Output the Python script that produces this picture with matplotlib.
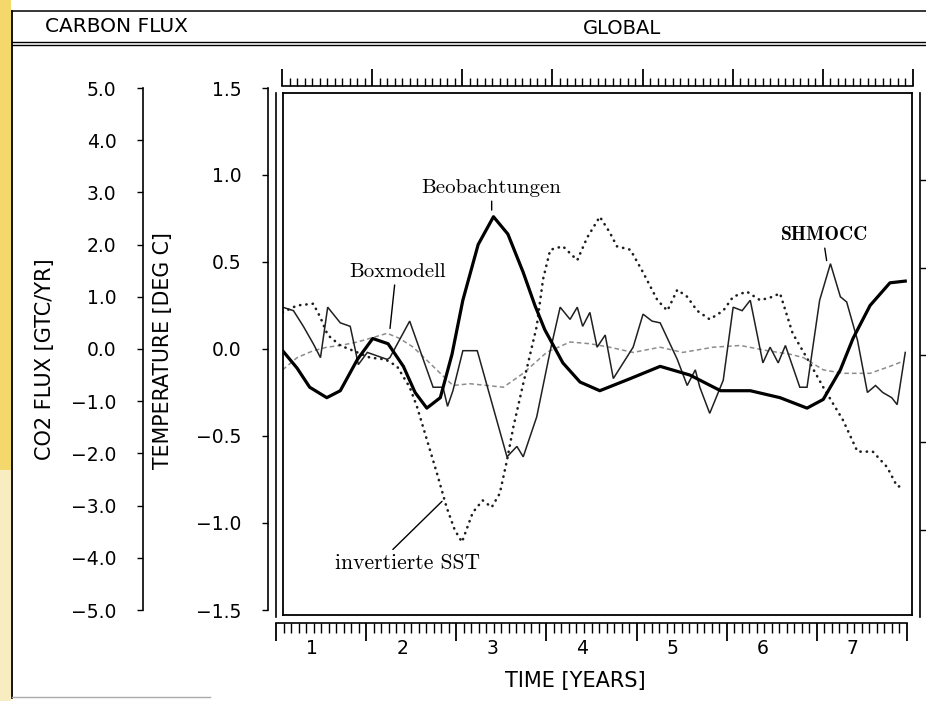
"""
Carbon flux / global temperature comparison, redrawn from a scanned figure.
"""

import numpy as np
import matplotlib.pyplot as plt
from matplotlib.lines import Line2D
from matplotlib.patches import Rectangle


# ---------------------------------------------------------------------------
# Data (time in years, temperature in deg C)
# ---------------------------------------------------------------------------

obs_years = [0.64, 0.80, 0.94, 1.13, 1.28, 1.47, 1.64, 1.81, 1.98, 2.11,
             2.24, 2.39, 2.52, 2.64, 2.81, 2.98, 3.14, 3.31, 3.44, 3.55,
             3.75, 3.94, 4.16, 4.50, 4.83, 5.16, 5.50, 5.83, 6.16, 6.46,
             6.64, 6.83, 6.97, 7.16, 7.38, 7.55]
obs_temp = [-0.01, -0.11, -0.22, -0.28, -0.24, -0.06, 0.06, 0.03, -0.10, -0.25,
            -0.34, -0.28, -0.03, 0.28, 0.60, 0.76, 0.66, 0.44, 0.25, 0.11,
            -0.08, -0.19, -0.24, -0.17, -0.10, -0.15, -0.24, -0.24, -0.28, -0.34,
            -0.29, -0.12, 0.06, 0.25, 0.38, 0.39]

box_years = [0.64, 0.80, 0.98, 1.13, 1.28, 1.47, 1.67, 1.80, 1.94, 2.09,
             2.31, 2.53, 2.72, 2.91, 3.09, 3.31, 3.57, 3.83, 4.05, 4.27,
             4.53, 4.83, 5.08, 5.42, 5.72, 6.02, 6.27, 6.42, 6.64, 6.86,
             7.16, 7.38, 7.53]
box_temp = [-0.12, -0.05, -0.01, 0.01, 0.02, 0.04, 0.07, 0.09, 0.06, 0.01,
            -0.10, -0.21, -0.20, -0.21, -0.22, -0.14, -0.02, 0.04, 0.03, 0.01,
            -0.02, 0.01, -0.02, 0.01, 0.02, -0.01, -0.03, -0.05, -0.12, -0.14,
            -0.14, -0.10, -0.07]

shm_years = [0.64, 0.76, 0.87, 0.98, 1.06, 1.14, 1.28, 1.39, 1.44, 1.48,
             1.58, 1.80, 1.83, 2.05, 2.31, 2.42, 2.47, 2.53, 2.64, 2.80,
             3.13, 3.24, 3.31, 3.46, 3.61, 3.72, 3.83, 3.91, 3.97, 4.05,
             4.13, 4.22, 4.31, 4.53, 4.64, 4.74, 4.83, 5.02, 5.13, 5.22,
             5.27, 5.38, 5.53, 5.64, 5.74, 5.83, 5.97, 6.05, 6.14, 6.22,
             6.38, 6.46, 6.60, 6.72, 6.83, 6.90, 7.02, 7.13, 7.22, 7.30,
             7.40, 7.46, 7.55]
shm_temp = [0.24, 0.22, 0.13, 0.03, -0.05, 0.24, 0.15, 0.13, 0.01, -0.09,
            -0.02, -0.06, -0.05, 0.16, -0.22, -0.22, -0.33, -0.24, -0.01, -0.01,
            -0.62, -0.56, -0.62, -0.39, -0.01, 0.24, 0.17, 0.24, 0.13, 0.21,
            0.01, 0.08, -0.17, 0.01, 0.20, 0.16, 0.15, -0.06, -0.21, -0.12,
            -0.22, -0.37, -0.18, 0.24, 0.22, 0.28, -0.08, 0.01, -0.08, 0.02,
            -0.22, -0.22, 0.28, 0.49, 0.30, 0.27, 0.05, -0.25, -0.21, -0.25,
            -0.28, -0.32, -0.02]

sst_years = [0.64, 0.80, 0.98, 1.06, 1.14, 1.28, 1.47, 1.61, 1.78, 1.91,
             2.05, 2.13, 2.24, 2.35, 2.46, 2.55, 2.63, 2.75, 2.86, 2.96,
             3.05, 3.13, 3.20, 3.31, 3.46, 3.53, 3.61, 3.75, 3.91, 4.02,
             4.16, 4.27, 4.35, 4.50, 4.64, 4.80, 4.91, 5.02, 5.13, 5.24,
             5.38, 5.53, 5.64, 5.79, 5.94, 6.08, 6.16, 6.30, 6.49, 6.64,
             6.86, 7.02, 7.19, 7.35, 7.46, 7.51]
sst_temp = [0.21, 0.25, 0.26, 0.18, 0.08, 0.02, -0.02, -0.05, -0.06, -0.10,
            -0.22, -0.33, -0.52, -0.71, -0.91, -1.04, -1.11, -0.94, -0.87, -0.91,
            -0.83, -0.64, -0.45, -0.20, 0.13, 0.40, 0.57, 0.59, 0.51, 0.64,
            0.76, 0.67, 0.59, 0.57, 0.44, 0.28, 0.22, 0.34, 0.30, 0.22,
            0.17, 0.22, 0.30, 0.33, 0.28, 0.30, 0.32, 0.09, -0.08, -0.22,
            -0.41, -0.59, -0.59, -0.68, -0.79, -0.79]

co2_ticks = [5.0, 4.0, 3.0, 2.0, 1.0, 0.0, -1.0, -2.0, -3.0, -4.0, -5.0]
temp_ticks = [1.5, 1.0, 0.5, 0.0, -0.5, -1.0, -1.5]
year_labels = [1, 2, 3, 4, 5, 6, 7]

# ---------------------------------------------------------------------------
# Figure helpers (layout given in pixels of a 926x701 canvas)
# ---------------------------------------------------------------------------

W, H = 926, 701
fig = plt.figure(figsize=(W / 100, H / 100), dpi=100)
fig.patch.set_facecolor('white')


def px_axes(x0, y0, x1, y1):
    return fig.add_axes([x0 / W, 1 - y1 / H, (x1 - x0) / W, (y1 - y0) / H])


def fig_line(xs, ys, **kw):
    kw.setdefault('color', 'black')
    fig.add_artist(Line2D([x / W for x in xs], [1 - y / H for y in ys],
                          transform=fig.transFigure, **kw))


def fmt(v):
    return f'{v:.1f}'.replace('-', '\u2212')


def bare(ax, keep=()):
    for name, sp in ax.spines.items():
        sp.set_visible(name in keep)
        sp.set_linewidth(1.2)
    ax.patch.set_visible(False)


# paper edge (yellow strip of the scan)
fig.add_artist(Rectangle((0, 0), 11 / W, 1, transform=fig.transFigure,
                         color='#f4d86c', lw=0))
fig.add_artist(Rectangle((0, 0), 11 / W, 1 - 470 / H, transform=fig.transFigure,
                         color='#f7edc0', lw=0))

# outer frame and header box
fig_line([12, 12], [11, 698], lw=1.3)
fig_line([12, 926], [11, 11], lw=1.1)
fig_line([12, 926], [42, 42], lw=1.0)
fig_line([12, 926], [45, 45], lw=1.0)
fig_line([12, 210], [697, 697], lw=1.0, color='#aaaaaa')

fig.text(45 / W, 1 - 27 / H, 'CARBON FLUX', ha='left', va='center', fontsize=14.5)
fig.text(622 / W, 1 - 29 / H, 'GLOBAL', ha='center', va='center', fontsize=14)

# ---------------------------------------------------------------------------
# CO2 flux axis
# ---------------------------------------------------------------------------
ax_c = px_axes(143, 88, 150, 610)
bare(ax_c, keep=('left',))
ax_c.set_ylim(-5, 5)
ax_c.set_xticks([])
ax_c.set_yticks(co2_ticks, [fmt(v) for v in co2_ticks])
ax_c.tick_params(axis='y', direction='out', length=4, width=1, pad=15,
                 labelsize=13.5)
fig.text(45 / W, 1 - 359 / H, 'CO2 FLUX [GTC/YR]', rotation=90,
         ha='center', va='center', fontsize=15)

# ---------------------------------------------------------------------------
# Temperature axis
# ---------------------------------------------------------------------------
ax_t = px_axes(268, 88, 274, 610)
bare(ax_t, keep=('left',))
ax_t.set_ylim(-1.5, 1.5)
ax_t.set_xticks([])
ax_t.set_yticks(temp_ticks, [fmt(v) for v in temp_ticks])
ax_t.tick_params(axis='y', direction='out', length=4, width=1, pad=15,
                 labelsize=13.5)
fig.text(163 / W, 1 - 351 / H, 'TEMPERATURE [DEG C]', rotation=90,
         ha='center', va='center', fontsize=14.8)

# outer double frame with right-hand ticks
ax_o = px_axes(276, 93, 920, 617)
bare(ax_o, keep=('left', 'right'))
ax_o.set_ylim(-1.5, 1.5)
ax_o.set_xticks([])
ax_o.set_yticks(temp_ticks[1:-1])
ax_o.tick_params(axis='y', left=False, right=True, labelleft=False,
                 direction='out', length=5, width=1)

# ---------------------------------------------------------------------------
# Main plot
# ---------------------------------------------------------------------------
ax = px_axes(283, 93, 912, 615)
for sp in ax.spines.values():
    sp.set_linewidth(1.3)
ax.set_xlim(0.644, 7.625)
ax.set_ylim(-1.529, 1.471)
ax.set_xticks([])
ax.set_yticks([])

ax.plot(box_years, box_temp, color='#8c8c8c', lw=1.1, ls=(0, (3, 2)))
ax.plot(sst_years, sst_temp, color='#1e1e1e', lw=1.9, ls=(0, (0.1, 2.3)),
        dash_capstyle='round')
ax.plot(shm_years, shm_temp, color='#202020', lw=1.1, solid_joinstyle='miter')
ax.plot(obs_years, obs_temp, color='black', lw=2.3, solid_joinstyle='round')

lab = dict(ha='center', va='center', fontsize=15, family='cmr10')
arrow = dict(arrowstyle='-', color='black', lw=1.0, shrinkA=1, shrinkB=1)
ax.annotate('Beobachtungen', xy=(2.96, 0.79), xytext=(2.96, 0.925),
            arrowprops=dict(arrow, relpos=(0.5, 0)), **lab)
ax.annotate('Boxmodell', xy=(1.83, 0.11), xytext=(1.92, 0.443),
            arrowprops=dict(arrow, relpos=(0.47, 0)), **lab)
ax.annotate('invertierte SST', xy=(2.42, -0.87), xytext=(2.03, -1.23),
            arrowprops=dict(arrow, relpos=(0.37, 1)), **dict(lab, fontsize=15.5))
ax.annotate('SHMOCC', xy=(6.68, 0.50), xytext=(6.65, 0.655),
            arrowprops=dict(arrow, relpos=(0.5, 0)),
            **dict(lab, family='cmb10', fontsize=14))

# ---------------------------------------------------------------------------
# Time rulers (top and bottom)
# ---------------------------------------------------------------------------
major_pos = np.arange(0.6, 7.61, 1.0)
minor_pos = np.arange(0.6, 7.6, 1 / 12)

ax_top = px_axes(282, 66, 913, 86)
bare(ax_top, keep=('bottom',))
ax_top.set_xlim(0.6, 7.6)
ax_top.set_yticks([])
ax_top.set_xticks(major_pos)
ax_top.set_xticks(minor_pos, minor=True)
ax_top.tick_params(axis='x', which='major', direction='in', length=12,
                   width=1.3, labelbottom=False)
ax_top.tick_params(axis='x', which='minor', direction='in', length=6, width=1)

ax_bot = px_axes(276, 623, 907, 643)
bare(ax_bot, keep=('top',))
ax_bot.set_xlim(0.6, 7.6)
ax_bot.set_yticks([])
ax_bot.set_xticks(major_pos)
ax_bot.set_xticks(minor_pos, minor=True)
ax_bot.tick_params(axis='x', which='both', bottom=False, top=True,
                   labelbottom=False, direction='in')
ax_bot.tick_params(axis='x', which='major', length=13, width=1.3)
ax_bot.tick_params(axis='x', which='minor', length=7, width=1)
for yr in year_labels:
    ax_bot.text(yr, 1 - (648 - 623) / 20, str(yr), transform=ax_bot.get_xaxis_transform(),
                ha='center', va='center', fontsize=13.5)

fig.text(575 / W, 1 - 681 / H, 'TIME [YEARS]', ha='center', va='center',
         fontsize=15)

fig.savefig('out.png', dpi=100)
plt.close(fig)
